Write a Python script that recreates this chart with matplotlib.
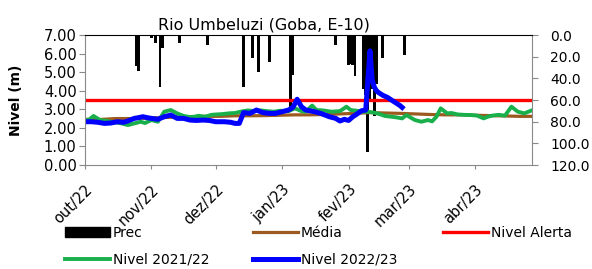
import pandas as pd
import matplotlib
matplotlib.use('Agg')
import matplotlib.pyplot as plt
import matplotlib.ticker as mticker
from matplotlib.lines import Line2D
from matplotlib.patches import Patch
from matplotlib.transforms import ScaledTranslation

# day numbers are counted from 1 Oct 2022
start = pd.Timestamp('2022-10-01')

prec_days = [24, 25, 31, 33, 35, 36, 44, 57, 74, 78, 81, 86, 96, 97, 117,
             123, 124, 125, 126, 130, 131, 132, 133, 134, 135, 136, 139, 149]
prec_mm = [29, 33, 3, 7, 48, 12, 7.5, 9, 48, 21, 34, 25, 66, 37, 9,
           28, 27, 28, 38, 50, 55, 108, 60, 50, 75, 45, 21, 18]

media_days = [0, 7, 14, 21, 28, 35, 42, 49, 56, 63, 70, 77, 84, 91, 98, 105,
              112, 119, 126, 133, 140, 147, 154, 161, 168, 175, 182, 189, 196, 203, 208]
media_vals = [2.45, 2.45, 2.5, 2.5, 2.52, 2.55, 2.58, 2.6, 2.62, 2.62, 2.65, 2.65,
              2.66, 2.68, 2.7, 2.7, 2.72, 2.75, 2.78, 2.82, 2.8, 2.78, 2.75, 2.72,
              2.7, 2.7, 2.68, 2.66, 2.64, 2.62, 2.62]

alerta = 3.5

n2122_days = [0, 2, 4, 7, 10, 12, 15, 17, 20, 23, 26, 28, 31, 34, 37, 40, 43, 46,
              49, 51, 53, 56, 59, 61, 64, 67, 70, 73, 76, 79, 82, 85, 88, 91, 95,
              98, 101, 103, 106, 108, 111, 115, 119, 122, 124, 127, 129, 132, 135,
              138, 140, 143, 145, 148, 150, 152, 154, 157, 160, 162, 164, 166, 169,
              171, 174, 177, 180, 183, 186, 188, 190, 193, 196, 199, 202, 205, 208]
n2122_vals = [2.42, 2.45, 2.64, 2.42, 2.38, 2.33, 2.28, 2.24, 2.15, 2.24, 2.33, 2.26,
              2.42, 2.33, 2.87, 2.96, 2.78, 2.64, 2.58, 2.6, 2.65, 2.6, 2.7, 2.72,
              2.74, 2.78, 2.8, 2.88, 2.94, 2.9, 2.94, 2.9, 2.87, 2.92, 2.9,
              3.05, 2.9, 2.87, 3.2, 2.96, 2.94, 2.87, 2.9, 3.14, 2.96, 2.92, 2.87,
              2.87, 2.82, 2.72, 2.64, 2.6, 2.57, 2.51, 2.69, 2.55, 2.42, 2.33, 2.42,
              2.35, 2.6, 3.05, 2.78, 2.8, 2.72, 2.7, 2.69, 2.66, 2.51, 2.6, 2.66,
              2.7, 2.66, 3.14, 2.87, 2.78, 2.92]

n2223_days = [0, 3, 6, 9, 12, 15, 18, 20, 23, 25, 27, 29, 31, 34, 37, 40, 43, 46,
              49, 52, 55, 58, 61, 65, 68, 70, 72, 74, 77, 80, 83, 86, 89, 92, 95,
              97, 99, 101, 103, 105, 107, 110, 112, 114, 117, 119, 121, 123, 125,
              127, 129, 131, 133, 134, 135, 136, 137, 139, 141, 143, 145, 147, 148]
n2223_vals = [2.33, 2.33, 2.3, 2.24, 2.26, 2.33, 2.3, 2.37, 2.51, 2.55, 2.6, 2.55,
              2.51, 2.46, 2.6, 2.69, 2.51, 2.51, 2.42, 2.4, 2.42, 2.4, 2.33, 2.33,
              2.3, 2.24, 2.24, 2.82, 2.78, 2.96, 2.82, 2.78, 2.78, 2.87, 2.96,
              3.1, 3.54, 3.14, 2.96, 2.92, 2.87, 2.78, 2.69, 2.6, 2.51, 2.37, 2.46,
              2.4, 2.6, 2.75, 2.92, 2.96, 6.15, 4.6, 4.2, 4.0, 3.9, 3.75, 3.65,
              3.5, 3.35, 3.2, 3.1]

month_starts = ['2022-10-01', '2022-11-01', '2022-12-01', '2023-01-01',
                '2023-02-01', '2023-03-01', '2023-04-01']
month_labels = ['out/22', 'nov/22', 'dez/22', 'jan/23', 'fev/23', 'mar/23', 'abr/23']


def to_dates(days):
    return start + pd.to_timedelta(days, unit='D')


W, H = 592, 269
fig = plt.figure(figsize=(W / 100, H / 100), dpi=100)
plt.rcParams['font.family'] = ['DejaVu Sans']
gray = '#898989'

ax = fig.add_axes([85 / W, 1 - 165 / H, (532 - 85) / W, (165 - 35) / H])
ax2 = ax.twinx()
ax.set_zorder(ax2.get_zorder() + 1)
ax.patch.set_visible(False)

# precipitation hanging from the top
ax2.bar(to_dates(prec_days), prec_mm, width=1.3, color='black', zorder=1)
ax2.set_ylim(120, 0)
ax2.set_yticks(range(0, 121, 20))
ax2.yaxis.set_major_formatter(mticker.FormatStrFormatter('%.1f'))

ax.plot(to_dates(media_days), media_vals, color='#9C5A1E', lw=2.3)
ax.axhline(alerta, color='#FF0000', lw=2.4)
ax.plot(to_dates(n2122_days), n2122_vals, color='#19B04C', lw=2.8)
ax.plot(to_dates(n2223_days), n2223_vals, color='#0000FF', lw=3.6)

ax.set_ylim(0, 7)
ax.set_yticks(range(0, 8))
ax.yaxis.set_major_formatter(mticker.FormatStrFormatter('%.2f'))
ax.set_xlim(start, start + pd.Timedelta(days=208.6))
ax.set_xticks(pd.to_datetime(month_starts))
ax.set_xticklabels(month_labels, rotation=45, ha='right', va='top',
                   rotation_mode='anchor')
for lbl in ax.get_xticklabels():
    lbl.set_transform(lbl.get_transform() + ScaledTranslation(3 / 100, 0, fig.dpi_scale_trans))

for s in ['left', 'bottom']:
    ax.spines[s].set_color(gray)
ax.spines['right'].set_visible(False)
ax.spines['top'].set_color('black')
for s in ['left', 'bottom', 'top']:
    ax2.spines[s].set_visible(False)
ax2.spines['right'].set_color(gray)

ax.tick_params(axis='y', direction='out', length=4, color=gray, labelsize=10.5, pad=2)
ax.tick_params(axis='x', direction='out', length=3, color=gray, labelsize=10.5, pad=9)
ax2.tick_params(axis='y', direction='out', length=4, color=gray, labelsize=10, pad=9)

fig.text(264 / W, 1 - 25 / H, 'Rio Umbeluzi (Goba, E-10)', ha='center', va='center',
         fontsize=11.5)
fig.text(16 / W, 1 - 100 / H, 'Nivel (m)', rotation=90, ha='center', va='center',
         fontsize=10, fontweight='bold')

# legend, three columns placed by hand
fs = 10
leg_kw = dict(loc='upper left', frameon=False, fontsize=fs, borderpad=0,
              borderaxespad=0, handlelength=3.24, handletextpad=0.2,
              handleheight=0.8, labelspacing=0.92)
col1 = [Patch(color='black'), Line2D([], [], color='#19B04C', lw=2.8)]
col2 = [Line2D([], [], color='#9C5A1E', lw=2.3), Line2D([], [], color='#0000FF', lw=3.6)]
col3 = [Line2D([], [], color='#FF0000', lw=2.4)]
fig.legend(col1, ['Prec', 'Nivel 2021/22'], bbox_to_anchor=(65 / W, 1 - 226 / H), **leg_kw)
fig.legend(col2, ['Média', 'Nivel 2022/23'], bbox_to_anchor=(253 / W, 1 - 226 / H), **leg_kw)
fig.legend(col3, ['Nivel Alerta'], bbox_to_anchor=(443 / W, 1 - 226 / H), **leg_kw)

fig.savefig('out.png', dpi=100)
